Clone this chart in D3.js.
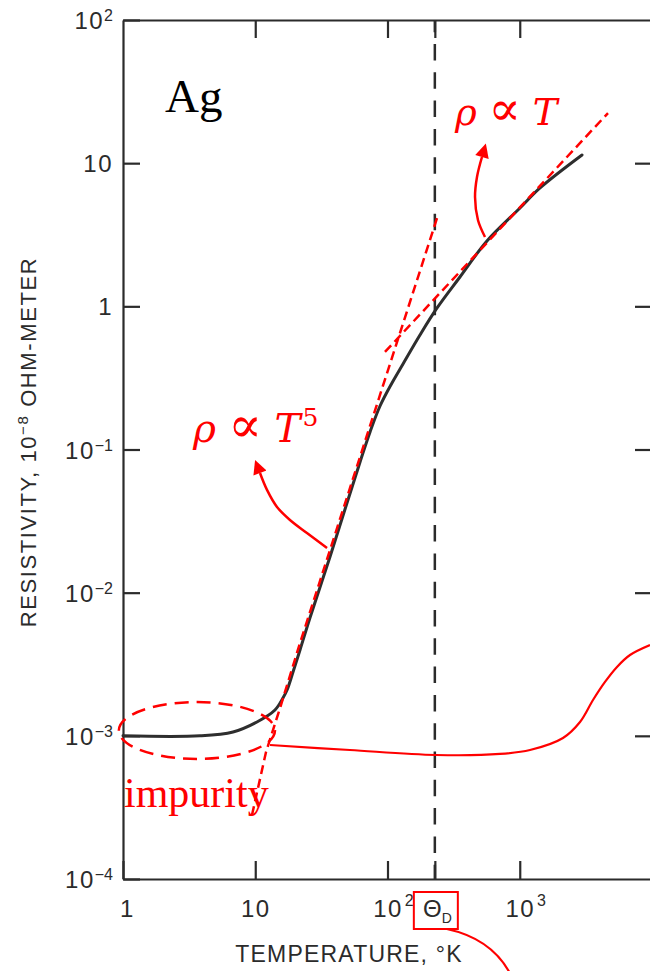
<!DOCTYPE html>
<html><head><meta charset="utf-8">
<script src="https://cdn.jsdelivr.net/npm/d3@7/dist/d3.min.js"></script>
<style>
body{margin:0;background:#fff;}
svg{display:block;}
</style></head>
<body>
<svg id="chart" width="650" height="971"></svg>
<script>
// ---------- DATA ----------
// Measured resistivity of Ag (10^-8 ohm-meter) vs temperature (K)
const temperatureK = [1, 3.82, 6.79, 10.3, 14.1, 16.2, 17.4, 19.3, 21.8, 25.9, 36.7, 49.4, 62.0, 73.8, 87.8, 108.1, 131, 176, 237, 353, 565, 1004, 1423, 2956];
const resistivity  = [1.0e-3, 1.0e-3, 1.064e-3, 1.25e-3, 1.516e-3, 1.838e-3, 2.09e-3, 2.79e-3, 3.98e-3, 6.65e-3, 0.01775, 0.0423, 0.0818, 0.1326, 0.2013, 0.2914, 0.3957, 0.6305, 0.974, 1.603, 2.86, 4.86, 6.71, 11.4];

// Debye temperature
const thetaD = 228;

// Axis ticks
const xTickValues = [1, 10, 100, thetaD, 1000];
const xTickBase   = ["1", "10", "10", "\u0398", "10"];
const xTickSup    = ["", "", "2", "", "3"];
const xTickSub    = ["", "", "", "D", ""];
const yTickValues = [1e2, 1e1, 1, 1e-1, 1e-2, 1e-3, 1e-4];
const yTickBase   = ["10", "10", "1", "10", "10", "10", "10"];
const yTickSup    = ["2", "", "", "\u22121", "\u22122", "\u22123", "\u22124"];
const topTickValues = [10, 100, thetaD, 1000];
const sideTickValues = [1e1, 1, 1e-1, 1e-2, 1e-3];

// Red annotation: T^5 guide line
const t5LineT   = [9.45, 12.06, 15.65, 21.8, 237];
const t5LineRho = [2.80e-4, 7.71e-4, 1.642e-3, 4.45e-3, 4.14];
// Red annotation: linear-T guide line
const t1LineT   = [95.7, 4649];
const t1LineRho = [0.480, 22.4];
// Impurity region (ellipse bounds)
const impurityT   = [0.93, 14.1];
const impurityRho = [6.9e-4, 1.72e-3];
// Residual (impurity) level connector
const residualT   = [12.93, 52.0, 232.6, 709, 1195, 2123, 2855, 3580, 4412, 5437, 6817, 9659];
const residualRho = [8.63e-4, 7.96e-4, 7.35e-4, 7.47e-4, 7.96e-4, 9.66e-4, 1.249e-3, 1.78e-3, 2.38e-3, 3.03e-3, 3.67e-3, 4.31e-3];
// Arrows
const arrowT5T   = [34.9, 24.6, 18.3, 14.6, 12.27, 10.86];
const arrowT5Rho = [0.02051, 0.0261, 0.0322, 0.0397, 0.0522, 0.0685];
const arrowT1T   = [546, 483, 459, 475, 518];
const arrowT1Rho = [3.05, 4.01, 5.80, 8.01, 11.04];

// ---------- CHART ----------
const svg = d3.select("#chart");
const x = d3.scaleLog().domain([1, 1e4]).range([123, 652]);
const y = d3.scaleLog().domain([1e-4, 1e2]).range([879, 20]);
const AX = "#2b2b2b", RED = "#ff0000";
const SANS = "'Liberation Sans', Arial, sans-serif";

const defs = svg.append("defs");
defs.append("marker").attr("id", "ah").attr("viewBox", "0 0 10 10")
  .attr("refX", 0).attr("refY", 5).attr("markerUnits", "userSpaceOnUse")
  .attr("markerWidth", 17).attr("markerHeight", 14).attr("orient", "auto")
  .append("path").attr("d", "M0,0 L10,5 L0,10 Z").attr("fill", RED);

function styleAxis(g) {
  g.attr("color", AX);
  g.select(".domain").attr("stroke-width", 2.2);
  g.selectAll(".tick line").attr("stroke-width", 2.2);
  g.selectAll(".tick text").remove();
}

// bottom axis
const gB = svg.append("g").attr("transform", `translate(0,${y(1e-4)})`)
  .call(d3.axisBottom(x).tickValues(xTickValues).tickSizeInner(-18).tickSizeOuter(0))
  .call(styleAxis);
gB.selectAll(".tick").each(function(d, i) {
  const g = d3.select(this);
  const isTheta = !!xTickSub[i];
  const t = g.append("text").attr("y", 38).attr("text-anchor", "start")
    .attr("fill", AX).style("font-family", SANS).style("font-size", "24px");
  const base = t.append("tspan").style("letter-spacing", isTheta ? "0px" : "1.5px").text(xTickBase[i]);
  const w = base.node().getComputedTextLength();
  const shift = i === 0 ? 4 : (isTheta ? -3 : 0);
  t.attr("x", -w / 2 + shift);
  if (xTickSup[i]) t.append("tspan").attr("dx", 2).attr("dy", -11).style("font-size", "16px").text(xTickSup[i]);
  if (xTickSub[i]) t.append("tspan").attr("dx", 0).attr("dy", 6).style("font-size", "14px").text(xTickSub[i]);
});
// top axis
svg.append("g").attr("transform", `translate(0,${y(1e2)})`)
  .call(d3.axisTop(x).tickValues(topTickValues).tickSizeInner(-18).tickSizeOuter(0))
  .call(styleAxis);
// left axis
const gL = svg.append("g").attr("transform", `translate(${x(1)},0)`)
  .call(d3.axisLeft(y).tickValues(yTickValues).tickSizeInner(-17).tickSizeOuter(0))
  .call(styleAxis);
gL.selectAll(".tick").each(function(d, i) {
  const g = d3.select(this);
  const t = g.append("text").attr("x", -10).attr("y", 8.5).attr("text-anchor", "end")
    .attr("fill", AX).style("font-family", SANS).style("font-size", "24px");
  t.append("tspan").text(yTickBase[i]).style("letter-spacing", "1.5px");
  if (yTickSup[i]) t.append("tspan").attr("dy", -8).style("font-size", "16px").text(yTickSup[i]);
});
// right axis
svg.append("g").attr("transform", `translate(${x(1e4)},0)`)
  .call(d3.axisRight(y).tickValues(sideTickValues).tickSizeInner(-17).tickSizeOuter(0))
  .call(styleAxis);

// axis titles
const yt = svg.append("text").attr("transform", "translate(36,442) rotate(-90)")
  .attr("text-anchor", "middle").attr("fill", AX)
  .style("font-family", SANS).style("font-size", "22px").style("letter-spacing", "1.6px");
yt.append("tspan").text("RESISTIVITY, 10");
yt.append("tspan").attr("dy", -8).style("font-size", "15px").text("\u22128");
yt.append("tspan").attr("dy", 8).text(" OHM-METER");
svg.append("text").attr("x", 349).attr("y", 962).attr("text-anchor", "middle").attr("fill", AX)
  .style("font-family", SANS).style("font-size", "23px").style("letter-spacing", "1.2px").text("TEMPERATURE, \u00B0K");

// Debye temperature dashed line
svg.append("line").attr("x1", x(thetaD)).attr("x2", x(thetaD)).attr("y1", y(1e2)).attr("y2", y(1e-4))
  .attr("stroke", AX).attr("stroke-width", 2.5).attr("stroke-dasharray", "16.5,11.8").attr("stroke-dashoffset", 4.3);

// resistivity curve
const line = d3.line().x(d => x(d[0])).y(d => y(d[1])).curve(d3.curveCatmullRom.alpha(0.5));
svg.append("path").datum(temperatureK.map((t, i) => [t, resistivity[i]]))
  .attr("d", line).attr("fill", "none").attr("stroke", "#2e2e2e").attr("stroke-width", 3).attr("stroke-linecap", "round");

// red guide lines
const straight = d3.line().x(d => x(d[0])).y(d => y(d[1]));
svg.append("path").datum(t5LineT.map((t, i) => [t, t5LineRho[i]]))
  .attr("d", straight).attr("fill", "none").attr("stroke", RED).attr("stroke-width", 2.5).attr("stroke-dasharray", "9,5");
svg.append("path").datum(t1LineT.map((t, i) => [t, t1LineRho[i]]))
  .attr("d", straight).attr("fill", "none").attr("stroke", RED).attr("stroke-width", 2.5).attr("stroke-dasharray", "9,5");

// impurity ellipse
const ex0 = x(impurityT[0]), ex1 = x(impurityT[1]), ey0 = y(impurityRho[1]), ey1 = y(impurityRho[0]);
svg.append("ellipse").attr("cx", (ex0 + ex1) / 2).attr("cy", (ey0 + ey1) / 2)
  .attr("rx", (ex1 - ex0) / 2).attr("ry", (ey1 - ey0) / 2)
  .attr("fill", "none").attr("stroke", RED).attr("stroke-width", 2.5).attr("stroke-dasharray", "14,8");

// residual connector
const smooth = d3.line().x(d => x(d[0])).y(d => y(d[1])).curve(d3.curveCatmullRom.alpha(0.5));
svg.append("path").datum(residualT.map((t, i) => [t, residualRho[i]]))
  .attr("d", smooth).attr("fill", "none").attr("stroke", RED).attr("stroke-width", 2.2);

// arrows
[[arrowT5T, arrowT5Rho], [arrowT1T, arrowT1Rho]].forEach(([ts, rs]) => {
  svg.append("path").datum(ts.map((t, i) => [t, rs[i]]))
    .attr("d", smooth).attr("fill", "none").attr("stroke", RED).attr("stroke-width", 2.5)
    .attr("marker-end", "url(#ah)");
});

// Theta_D box + pointer
const xd = x(thetaD), yb = y(1e-4);
svg.append("rect").attr("x", xd - 21).attr("y", yb + 13).attr("width", 44).attr("height", 37)
  .attr("fill", "none").attr("stroke", RED).attr("stroke-width", 2);
svg.append("path").attr("d", `M${xd + 12},${yb + 50} C${xd + 40},${yb + 56} ${xd + 62},${yb + 70} ${xd + 75},${yb + 94}`)
  .attr("fill", "none").attr("stroke", RED).attr("stroke-width", 2.2);

// text annotations
svg.append("text").attr("x", 165).attr("y", 112).attr("fill", "#000")
  .style("font-family", "'Liberation Serif', 'Times New Roman', serif").style("font-size", "47px").text("Ag");
svg.append("text").attr("x", 124).attr("y", 807).attr("fill", RED)
  .style("font-family", "'Liberation Serif', 'Times New Roman', serif").style("font-size", "42px").text("impurity");

const SERIF = "'DejaVu Serif', serif";
const l1 = svg.append("text").attr("x", 455).attr("y", 125).attr("fill", RED)
  .style("font-family", SERIF).style("font-size", "37px");
l1.append("tspan").style("font-style", "italic").text("\u03C1 ");
l1.append("tspan").style("font-size", "48px").text("\u221D");
l1.append("tspan").style("font-style", "italic").text(" T");

const l5 = svg.append("text").attr("x", 193).attr("y", 442).attr("fill", RED)
  .style("font-family", SERIF).style("font-size", "39px");
l5.append("tspan").style("font-style", "italic").text("\u03C1 ");
l5.append("tspan").style("font-size", "50px").text("\u221D");
l5.append("tspan").style("font-style", "italic").text(" T");
l5.append("tspan").attr("dy", -16).attr("dx", 2).style("font-size", "25px").text("5");
</script>
</body></html>
